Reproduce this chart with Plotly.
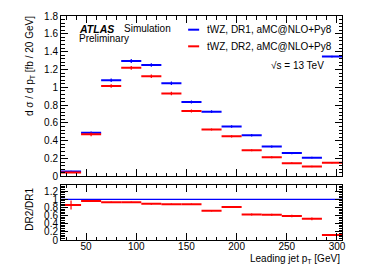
import plotly.graph_objects as go

bin_centers = [35, 55, 75, 95, 115, 135, 155, 175, 195, 215, 235, 255, 275, 295]
bin_halfwidth = [10] * 14
dr1 = [0.055, 0.49, 1.08, 1.295, 1.25, 1.045, 0.835, 0.727, 0.56, 0.462, 0.335, 0.262, 0.21, 1.345]
dr1_err = [0.01, 0.015, 0.02, 0.022, 0.02, 0.02, 0.017, 0.015, 0.015, 0.013, 0.012, 0.012, 0.01, 0.01]
dr2 = [0.045, 0.472, 1.014, 1.218, 1.123, 0.93, 0.734, 0.527, 0.45, 0.294, 0.215, 0.149, 0.112, 0.153]
dr2_err = [0.008, 0.02, 0.02, 0.022, 0.02, 0.02, 0.017, 0.012, 0.012, 0.011, 0.01, 0.01, 0.008, 0.008]
ratio = [0.86, 0.96, 0.93, 0.93, 0.89, 0.88, 0.88, 0.72, 0.81, 0.63, 0.62, 0.59, 0.52, 0.12]
ratio_err = [0.11, 0.025, 0.02, 0.02, 0.02, 0.02, 0.02, 0.02, 0.025, 0.025, 0.025, 0.03, 0.035, 0.01]
ref_x = [25, 305]
ref_y = [1, 1]

BLUE = "rgb(0,0,255)"
RED = "rgb(255,0,0)"
FONT = "Liberation Sans, Arial, sans-serif"

fig = go.Figure()

def hist_trace(y, err, color, xa, ya):
    return go.Scatter(
        x=bin_centers, y=y, mode="markers", xaxis=xa, yaxis=ya,
        marker=dict(size=0.1, color=color, opacity=0),
        error_x=dict(type="data", array=bin_halfwidth, width=0, thickness=2, color=color),
        error_y=dict(type="data", array=err, width=0, thickness=1.2, color=color),
        showlegend=False, hoverinfo="skip",
    )

fig.add_trace(hist_trace(dr1, dr1_err, BLUE, "x", "y"))
fig.add_trace(hist_trace(dr2, dr2_err, RED, "x", "y"))
fig.add_trace(go.Scatter(x=ref_x, y=ref_y, mode="lines", xaxis="x2", yaxis="y2",
                         line=dict(color=BLUE, width=1.2), showlegend=False, hoverinfo="skip"))
fig.add_trace(hist_trace(ratio, ratio_err, RED, "x2", "y2"))

# page has an 8px body margin: work in page pixels, then offset
OFF = 8
PL, PR, PT, PB = 61, 341.7, 11, 240   # plot-area edges in page pixels
W, H = 380 - OFF, 273 - OFF
L = PL - OFF
T = PT - OFF
pw = PR - PL
ph = PB - PT
R = W - L - pw
B = H - T - ph

def px(xp):
    return (xp - PL) / pw

def py(yp):
    return (PB - yp) / ph

axis_common = dict(
    showline=True, linecolor="black", linewidth=1, mirror="allticks",
    ticks="inside", ticklen=7, tickcolor="black", tickwidth=1,
    showgrid=False, zeroline=False, ticklabeloverflow="allow",
    tickfont=dict(family=FONT, size=10, color="black"),
)

fig.update_layout(
    width=W, height=H,
    margin=dict(l=L, r=R, t=T, b=B, pad=0),
    paper_bgcolor="white", plot_bgcolor="white",
    showlegend=False,
    xaxis=dict(range=[25, 305], domain=[0, 1], anchor="y", showticklabels=False,
               dtick=50, tick0=0, minor=dict(dtick=10, ticklen=3.5, ticks="inside", tickcolor="black"),
               matches="x2", **axis_common),
    yaxis=dict(range=[0, 1.8001], domain=[py(175), 1], anchor="x", dtick=0.2, tick0=0,
               minor=dict(dtick=0.04, ticklen=3.5, ticks="inside", tickcolor="black"),
               **axis_common),
    xaxis2=dict(range=[25, 305], domain=[0, 1], anchor="y2", dtick=50, tick0=0,
                ticklabelstandoff=-3,
                minor=dict(dtick=10, ticklen=3.5, ticks="inside", tickcolor="black"),
                **axis_common),
    yaxis2=dict(range=[0, 1.36], domain=[0, py(183.5)], anchor="x2", dtick=0.2, tick0=0,
                minor=dict(dtick=0.04, ticklen=3.5, ticks="inside", tickcolor="black"),
                **axis_common),
)

ann = []
def text(x, y, s, xanchor="left", yanchor="middle", size=10, angle=0):
    ann.append(dict(x=x, y=y, xref="paper", yref="paper", text=s, showarrow=False,
                    xanchor=xanchor, yanchor=yanchor, textangle=angle,
                    font=dict(family=FONT, size=size, color="black")))

text(px(77), py(24), "<b><i>ATLAS</i></b>", size=10.5)
text(px(122), py(24), "Simulation")
text(px(77), py(34.5), "Preliminary")
text(px(205), py(25), "tWZ, DR1, aMC@NLO+Py8")
text(px(205), py(42), "tWZ, DR2, aMC@NLO+Py8")
text(px(326), py(62), "√s = 13 TeV", xanchor="right")
text(px(30), py(9), "d σ / d p<sub>T</sub> [fb / 20 GeV]", xanchor="center", yanchor="top", angle=-90)
text(px(30), py(184), "DR2/DR1", xanchor="center", yanchor="top", angle=-90)
text(1.0, py(259), "Leading jet p<sub>T</sub> [GeV]", xanchor="right")
fig.update_layout(annotations=ann)

fig.update_layout(shapes=[
    dict(type="line", xref="paper", yref="paper", x0=px(188), x1=px(199), y0=py(25), y1=py(25),
         line=dict(color=BLUE, width=2)),
    dict(type="line", xref="paper", yref="paper", x0=px(188), x1=px(199), y0=py(42), y1=py(42),
         line=dict(color=RED, width=2)),
])

fig.write_html("out.html")
